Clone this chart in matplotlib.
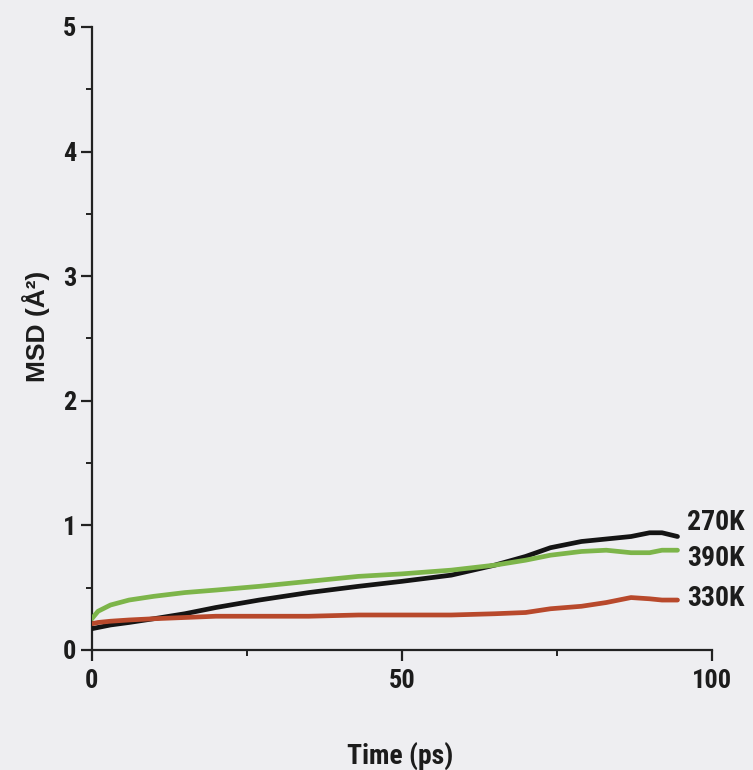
import matplotlib
matplotlib.use("Agg")
import matplotlib.pyplot as plt
from matplotlib import font_manager
from matplotlib.ticker import MultipleLocator

# Mean square displacement versus simulation time at three temperatures
time_ps = [0, 1, 3, 6, 10, 15, 20, 27, 35, 43, 50, 58, 65, 70, 74, 79, 83, 87, 90, 92, 94.5]
msd_270 = [0.17, 0.18, 0.20, 0.22, 0.25, 0.29, 0.34, 0.40, 0.46, 0.51, 0.55, 0.60, 0.68, 0.75, 0.82, 0.87, 0.89, 0.91, 0.94, 0.94, 0.91]
msd_390 = [0.25, 0.31, 0.36, 0.40, 0.43, 0.46, 0.48, 0.51, 0.55, 0.59, 0.61, 0.64, 0.68, 0.72, 0.76, 0.79, 0.80, 0.78, 0.78, 0.80, 0.80]
msd_330 = [0.21, 0.22, 0.23, 0.24, 0.25, 0.26, 0.27, 0.27, 0.27, 0.28, 0.28, 0.28, 0.29, 0.30, 0.33, 0.35, 0.38, 0.42, 0.41, 0.40, 0.40]

series_names = ["270K", "390K", "330K"]
series_vals = [msd_270, msd_390, msd_330]
series_colors = ["#141414", "#7db54a", "#b8492c"]
label_y = [1.02, 0.73, 0.41]

# pick a condensed face if one is available
available = {f.name for f in font_manager.fontManager.ttflist}
narrow_choices = ["Liberation Sans Narrow", "DejaVu Sans Condensed", "Roboto Condensed",
                  "Open Sans Condensed", "Liberation Sans"]
narrow_face = next((n for n in narrow_choices if n in available), "DejaVu Sans")
narrow = [narrow_face, "DejaVu Sans"]
sans = ["Liberation Sans", "DejaVu Sans"]

bg = "#eeeef1"
ink = "#1c1c1c"

fig = plt.figure(figsize=(7.53, 7.70), dpi=100, facecolor=bg)
ax = fig.add_axes([0.122, 0.156, 0.823, 0.809], facecolor=bg)

for vals, col in zip(series_vals, series_colors):
    ax.plot(time_ps, vals, color=col, lw=3.4, solid_capstyle="round", zorder=3)

for name, yv in zip(series_names, label_y):
    ax.text(96.0, yv, name, fontsize=20, family=narrow, fontweight="bold",
            color=ink, va="center", ha="left", clip_on=False)

ax.set_xlim(0, 100)
ax.set_ylim(0, 5)
ax.xaxis.set_major_locator(MultipleLocator(50))
ax.xaxis.set_minor_locator(MultipleLocator(25))
ax.yaxis.set_major_locator(MultipleLocator(1))
ax.yaxis.set_minor_locator(MultipleLocator(0.5))

for s in ["top", "right"]:
    ax.spines[s].set_visible(False)
for s in ["left", "bottom"]:
    ax.spines[s].set_linewidth(1.6)
    ax.spines[s].set_color("#222222")

ax.tick_params(axis="both", which="major", length=8, width=1.6, color="#222222",
               labelsize=19, labelcolor=ink)
ax.tick_params(axis="x", which="major", pad=6)
ax.tick_params(axis="y", which="major", pad=3)
ax.tick_params(axis="both", which="minor", length=4, width=1.4, color="#222222")
for lab in ax.get_xticklabels() + ax.get_yticklabels():
    lab.set_family(narrow)
    lab.set_fontweight("bold")

ax.set_xlabel("Time (ps)", fontsize=20, family=narrow, fontweight="bold", color=ink)
ax.xaxis.set_label_coords(0.497, -0.147)
ax.set_ylabel("MSD (Å²)", fontsize=19, family=sans, fontweight="bold", color=ink)
ax.yaxis.set_label_coords(-0.068, 0.52)

fig.savefig("out.png", dpi=100, facecolor=bg)
